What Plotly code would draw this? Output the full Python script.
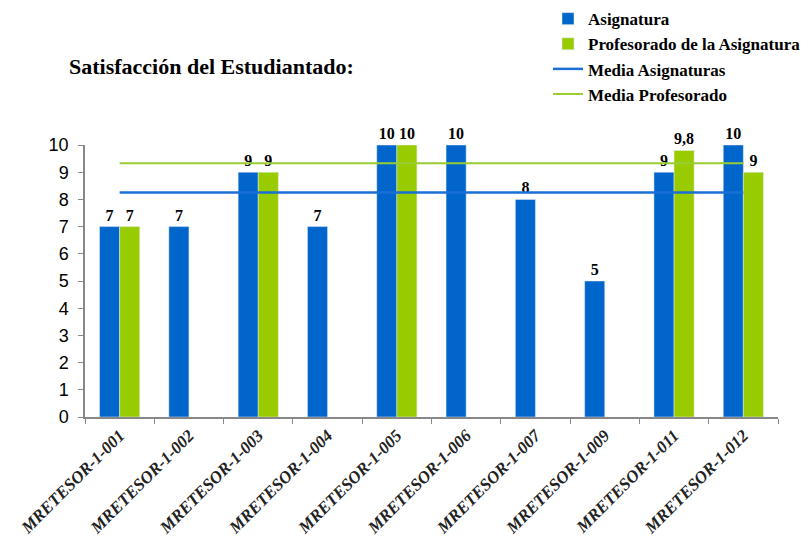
import plotly.graph_objects as go

categorias = ["MRETESOR-1-001", "MRETESOR-1-002", "MRETESOR-1-003", "MRETESOR-1-004",
              "MRETESOR-1-005", "MRETESOR-1-006", "MRETESOR-1-007", "MRETESOR-1-009",
              "MRETESOR-1-011", "MRETESOR-1-012"]
asignatura = [7, 7, 9, 7, 10, 10, 8, 5, 9, 10]
profesorado = [7, None, 9, None, 10, None, None, None, 9.8, 9]
media_asignaturas = 8.25
media_profesorado = 9.33
y_ticks = [0, 1, 2, 3, 4, 5, 6, 7, 8, 9, 10]

AZUL = "#0066CC"
VERDE = "#99CC00"

label_font = dict(family="Liberation Serif", size=16, color="black")

fig = go.Figure()
fig.add_trace(go.Bar(
    name="Asignatura", x=categorias, y=asignatura, marker_color=AZUL,
    texttemplate="<b>%{y}</b>", textposition="outside", textfont=label_font,
    cliponaxis=False,
))
fig.add_trace(go.Bar(
    name="Profesorado de la Asignatura", x=categorias, y=profesorado, marker_color=VERDE,
    texttemplate="<b>%{y}</b>", textposition="outside", textfont=label_font,
    cliponaxis=False,
))
fig.add_trace(go.Scatter(
    name="Media Asignaturas", x=categorias, y=[media_asignaturas] * len(categorias),
    mode="lines", line=dict(color="#1A6FD6", width=2.5),
))
fig.add_trace(go.Scatter(
    name="Media Profesorado", x=categorias, y=[media_profesorado] * len(categorias),
    mode="lines", line=dict(color="#99CC33", width=2),
))

# page body has an 8px default margin, so the figure is 800x530 offset by 8px
fig.update_layout(
    width=800, height=530,
    margin=dict(l=77, r=30, t=137, b=121, autoexpand=False),
    paper_bgcolor="white", plot_bgcolor="white",
    separators=",.",
    barmode="group", bargap=0.42, bargroupgap=0,
    showlegend=True,
    legend=dict(
        x=0.6681, y=1.529, xanchor="left", yanchor="top",
        font=dict(family="Liberation Serif", size=17, color="black", weight="bold"),
        tracegroupgap=0, itemwidth=30, bgcolor="rgba(0,0,0,0)",
        traceorder="normal",
    ),
    font=dict(family="Liberation Serif", color="black"),
    annotations=[dict(
        text="<b>Satisfacción del Estudiantado:</b>",
        xref="paper", yref="paper", x=-0.026, y=1.29,
        xanchor="left", yanchor="middle", showarrow=False,
        font=dict(family="Liberation Serif", size=22, color="black"),
    )],
)
fig.update_yaxes(
    range=[0, 10], tickvals=y_ticks, showgrid=False, zeroline=False,
    showline=True, linecolor="#888888", linewidth=1.5,
    ticks="outside", ticklen=5, tickcolor="#888888", automargin=False,
    ticklabelstandoff=6,
    tickfont=dict(family="Liberation Sans", size=18, color="black"),
)
fig.update_xaxes(
    showgrid=False, showline=True, linecolor="#888888", linewidth=1.5,
    ticks="outside", ticklen=5, tickcolor="#888888", tickson="boundaries",
    tickangle=-45, automargin=False,
    tickfont=dict(family="Liberation Serif", size=17, color="#222222"),
    ticktext=[f"<b><i>{c}</i></b>" for c in categorias], tickvals=categorias,
)

fig.write_html("out.html")
